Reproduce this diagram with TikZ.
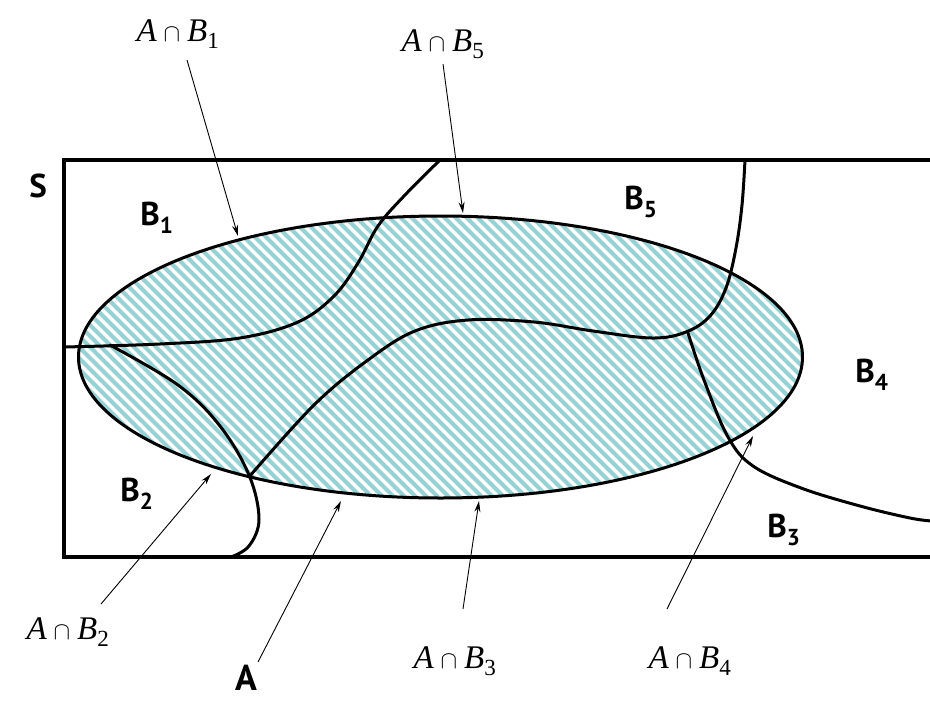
\documentclass[tikz,border=0pt]{standalone}
\usepackage{fontspec}
\setsansfont{PT Sans}
\setmainfont{Liberation Serif}
\usetikzlibrary{arrows.meta}
\definecolor{hatchc}{RGB}{150,210,212}
\begin{document}
\begin{tikzpicture}[x=1pt,y=-1pt,
 region/.style={font=\fontsize{33}{33}\sffamily\bfseries\selectfont, inner sep=0pt},
 lbl/.style={font=\fontsize{33}{33}\selectfont, inner sep=0pt},
 pointer/.style={line width=0.9pt, -{Stealth[length=11pt,width=6pt]}},
 bound/.style={line width=3pt, line cap=round},
]
\useasboundingbox (0,0) rectangle (930,702);
% hatching
\begin{scope}
\clip (440.5,357) ellipse [x radius=362, y radius=141];
\foreach \i in {-420,-409,...,900} \draw[hatchc, line width=4pt] (\i,200) -- ++(330,330);
\end{scope}
% sample space
\draw[line width=4pt] (931,160) -- (64,160) -- (64,557) -- (931,557);
% event A
\draw[bound] (440.5,357) ellipse [x radius=362, y radius=141];
% partition boundaries
\draw[bound] plot[smooth, tension=0.6] coordinates {(440,160) (405,195) (378,226) (358,263) (334,296) (298,322) (240,338) (160,344) (64,347)};
\draw[bound] plot[smooth, tension=0.6] coordinates {(745,160) (742,205) (736,248) (726,288) (710,316) (686,332) (652,338) (593,331) (534,322) (468,320) (415,331) (368,360) (314,405) (249,477)};
\draw[bound] plot[smooth, tension=0.6] coordinates {(110,345) (178,385) (220,426) (249,475) (259,519) (249,546) (231,557)};
\draw[bound] plot[smooth, tension=0.6] coordinates {(688,333) (704,380) (728,437) (753,466) (801,488) (860,506) (910,518) (932,521)};
% region labels
\node[region] (S) at (38,186) {S};
\node[region] (b1) at (157,218) {B\textsubscript{1}};
\node[region] (b5) at (641,202) {B\textsubscript{5}};
\node[region] (b4) at (872,375) {B\textsubscript{4}};
\node[region] (b3) at (784,530) {B\textsubscript{3}};
\node[region] (b2) at (137,494) {B\textsubscript{2}};
\node[region, font=\fontsize{36}{36}\sffamily\bfseries\selectfont] (a) at (246,678) {A};
% intersection labels
\node[lbl] (l1) at (178,34) {\textit{A}$\;\cap\;$\textit{B}\textsubscript{1}};
\node[lbl] (l5) at (443,44) {\textit{A}$\;\cap\;$\textit{B}\textsubscript{5}};
\node[lbl] (l2) at (68,632) {\textit{A}$\;\cap\;$\textit{B}\textsubscript{2}};
\node[lbl] (l3) at (455,661) {\textit{A}$\;\cap\;$\textit{B}\textsubscript{3}};
\node[lbl] (l4) at (690,661) {\textit{A}$\;\cap\;$\textit{B}\textsubscript{4}};
% arrow ends
\coordinate (s1) at (187,60);  \coordinate (t1) at (238,236);
\coordinate (s5) at (443,64);  \coordinate (t5) at (463,213);
\coordinate (s2) at (101,604); \coordinate (t2) at (211,474);
\coordinate (sa) at (258,662); \coordinate (ta) at (341,501);
\coordinate (s3) at (463,609); \coordinate (t3) at (479,501);
\coordinate (s4) at (667,609); \coordinate (t4) at (753,436);
\draw[pointer] (s1) -- (t1);
\draw[pointer] (s5) -- (t5);
\draw[pointer] (s2) -- (t2);
\draw[pointer] (sa) -- (ta);
\draw[pointer] (s3) -- (t3);
\draw[pointer] (s4) -- (t4);
\end{tikzpicture}
\end{document}
